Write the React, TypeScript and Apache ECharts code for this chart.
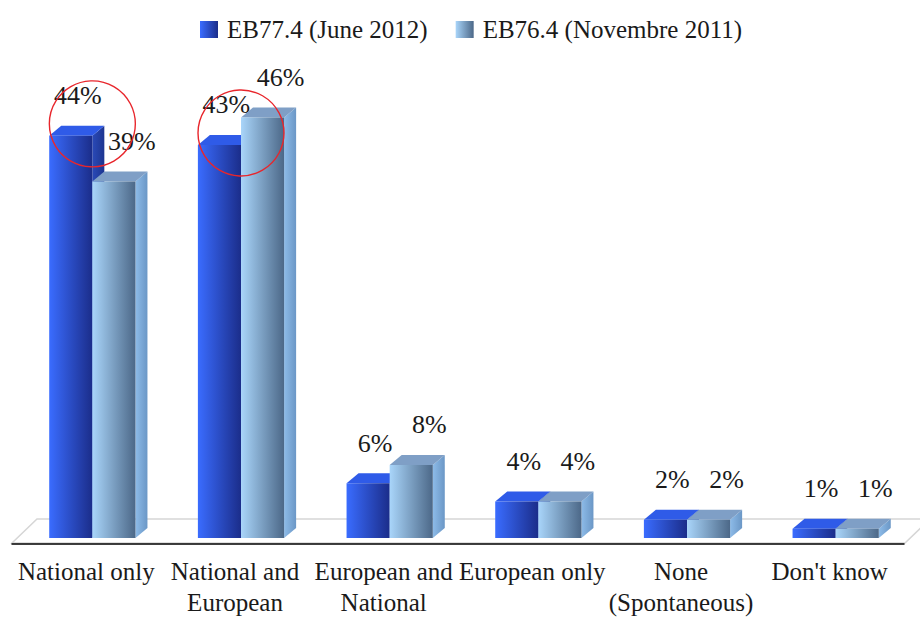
import React, { useEffect, useRef } from "react";
import * as echarts from "echarts";

const categories = [
  "National only",
  "National and\nEuropean",
  "European and\nNational",
  "European only",
  "None\n(Spontaneous)",
  "Don't know",
];
const june2012 = [44, 43, 6, 4, 2, 1];
const nov2011 = [39, 46, 8, 4, 2, 1];
const seriesNames = ["EB77.4 (June 2012)", "EB76.4 (Novembre 2011)"];
const highlightedCategories = [0, 1];

const FONT = "'Liberation Serif', 'Times New Roman', 'DejaVu Serif', serif";
const DX = 12;
const DY = 10;
const BASE_LIFT = 6;
const SHIFT = 6;

const palette = [
  {
    front: ["#3a6cff", "#1b2d8a"],
    top: "#2f5be8",
    side: ["#2a4ab8", "#1d3590"],
    legend: ["#3a6cff", "#1b2d8a"],
  },
  {
    front: ["#a9d5fa", "#4c6888"],
    top: "#7f9fc6",
    side: ["#8dbbe8", "#6b97c6"],
    legend: ["#a9d5fa", "#4c6888"],
  },
];

const grad = (c: string[]) =>
  new echarts.graphic.LinearGradient(0, 0, 1, 0, [
    { offset: 0, color: c[0] },
    { offset: 1, color: c[1] },
  ]);

const makeRender = (sIdx: number) => (params: any, api: any) => {
  const cat = api.value(0);
  const v = api.value(1);
  const p0 = api.coord([cat, 0]);
  const p1 = api.coord([cat, v]);
  const band = api.size([1, 0])[0];
  const w = band * 0.29;
  const cx = p0[0] + SHIFT;
  const x0 = sIdx === 0 ? cx - w : cx;
  const x1 = x0 + w;
  const base = p0[1] - BASE_LIFT;
  const top = p1[1] - BASE_LIFT;
  const c = palette[sIdx];
  return {
    type: "group",
    children: [
      {
        type: "polygon",
        shape: {
          points: [
            [x1, top],
            [x1 + DX, top - DY],
            [x1 + DX, base - DY],
            [x1, base],
          ],
        },
        style: { fill: grad(c.side) },
      },
      {
        type: "polygon",
        shape: {
          points: [
            [x0, top],
            [x0 + DX, top - DY],
            [x1 + DX, top - DY],
            [x1, top],
          ],
        },
        style: { fill: c.top },
      },
      {
        type: "rect",
        shape: { x: x0, y: top, width: w, height: base - top },
        style: { fill: grad(c.front) },
      },
      {
        type: "text",
        x: x0 + w / 2 + (sIdx === 0 ? 7 : 18),
        y: top - 40,
        style: {
          text: v + "%",
          font: `26px ${FONT}`,
          fill: "#1a1a1a",
          align: "center",
          verticalAlign: "middle",
        },
      },
    ],
  };
};

const renderCircle = (params: any, api: any) => {
  const cat = api.value(0);
  const v = api.value(1);
  const p0 = api.coord([cat, v]);
  return {
    type: "circle",
    shape: { cx: p0[0] + SHIFT, cy: p0[1] - BASE_LIFT - 12, r: 43 },
    style: { fill: "none", stroke: "#e8262c", lineWidth: 1.4 },
  };
};

export default function App() {
  const ref = useRef<HTMLDivElement>(null);
  useEffect(() => {
    if (!ref.current) return;
    const chart = echarts.init(ref.current, undefined, { renderer: "svg" });
    chart.setOption({
      animation: false,
      backgroundColor: "#ffffff",
      legend: {
        data: seriesNames,
        left: 195,
        top: 12,
        itemWidth: 18,
        itemHeight: 17,
        itemGap: 28,
        icon: "rect",
        textStyle: {
          fontFamily: FONT,
          fontSize: 25,
          color: "#1a1a1a",
          padding: [0, 0, 0, 4],
        },
      },
      grid: { left: 12, right: 16, top: 87, bottom: 78 },
      xAxis: {
        type: "category",
        data: categories,
        axisLine: { lineStyle: { color: "#000", width: 1.5 } },
        axisTick: { length: 9, lineStyle: { color: "#000", width: 1.5 } },
        axisLabel: {
          interval: 0,
          fontFamily: FONT,
          fontSize: 25,
          color: "#1a1a1a",
          lineHeight: 31,
          margin: 12,
        },
        z: 5,
      },
      yAxis: {
        type: "value",
        min: 0,
        max: 50,
        show: false,
        splitLine: { show: false },
      },
      graphic: [
        {
          type: "polygon",
          z: -10,
          silent: true,
          shape: {
            points: [
              [12, 543],
              [905, 543],
              [930, 519],
              [37, 519],
            ],
          },
          style: { fill: "#ffffff", stroke: "#d6d6d6", lineWidth: 1.5 },
        },
      ],
      series: [
        {
          name: seriesNames[0],
          type: "custom",
          renderItem: makeRender(0),
          itemStyle: { color: grad(palette[0].legend) },
          data: june2012.map((v, i) => [i, v]),
          z: 2,
        },
        {
          name: seriesNames[1],
          type: "custom",
          renderItem: makeRender(1),
          itemStyle: { color: grad(palette[1].legend) },
          data: nov2011.map((v, i) => [i, v]),
          z: 3,
        },
        {
          name: "highlight",
          type: "custom",
          renderItem: renderCircle,
          data: highlightedCategories.map((i) => [i, june2012[i]]),
          z: 10,
          silent: true,
        },
      ],
    });
    return () => chart.dispose();
  }, []);
  return (
    <div
      ref={ref}
      style={{ position: "fixed", left: 0, top: 0, width: 920, height: 622 }}
    />
  );
}
